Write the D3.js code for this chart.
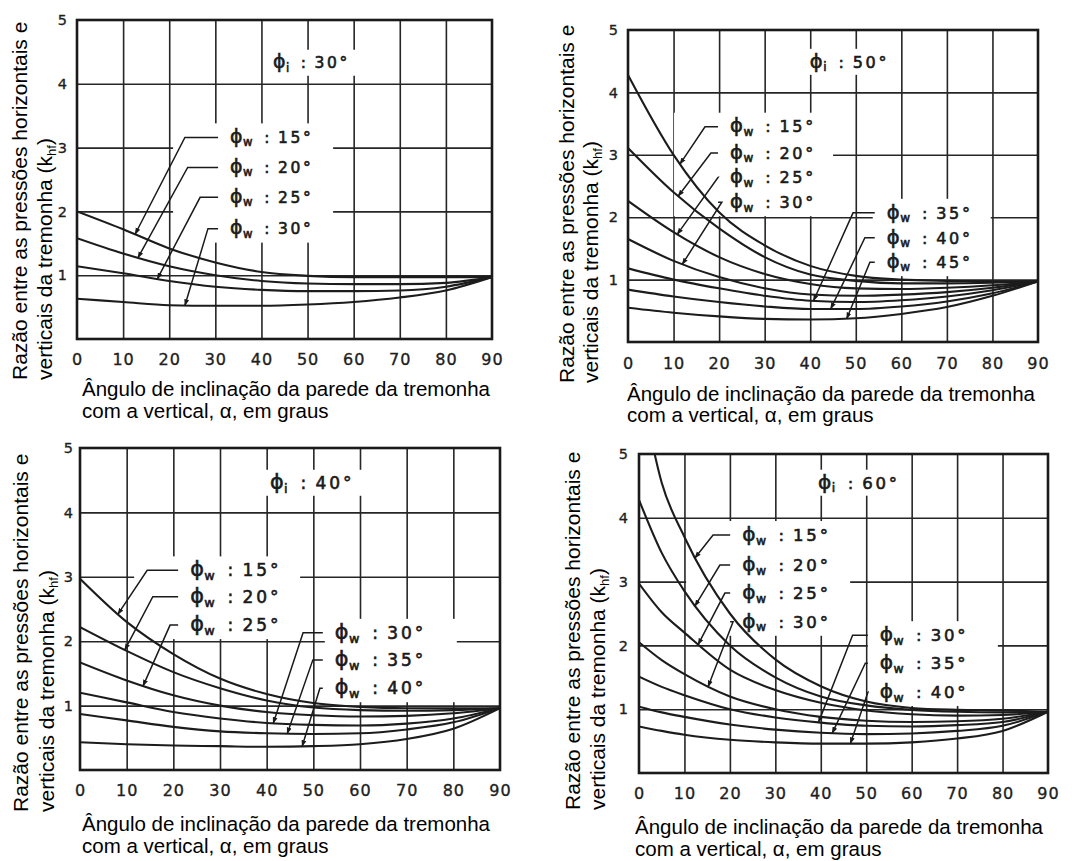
<!DOCTYPE html>
<html>
<head>
<meta charset="utf-8">
<script src="https://cdn.jsdelivr.net/npm/d3@7"></script>
<style>
  body { margin: 0; background: #fff; }
  svg { display: block; }
  .grid line { stroke: #262626; stroke-width: 1.6; }
  .tick-lab text { font-family: "DejaVu Sans", sans-serif; fill: #1e1e1e; stroke: #1e1e1e; stroke-width: 0.35; }
  .lab { font-family: "DejaVu Sans", sans-serif; fill: #1a1a1a; stroke: #1a1a1a; stroke-width: 0.6; }
  .title { font-family: "Liberation Sans", Arial, sans-serif; fill: #000; }
</style>
</head>
<body>
<svg id="chart" width="1084" height="861"></svg>
<script>
// ---------- data ----------
const alphaDeg   = [0, 10, 20, 30, 40, 50, 60, 70, 80, 90];        // hopper wall angle α (x)
const alphaDeg60 = [0, 5, 10, 20, 30, 40, 50, 60, 70, 80, 90];     // φi = 60° read also at 5°
const alphaTicks = [0, 10, 20, 30, 40, 50, 60, 70, 80, 90];
const kTicks     = [1, 2, 3, 4, 5];

// φi = 30°
const phiI30   = "30°";
const walls30  = ["15°", "20°", "25°", "30°"];
const k30_w15  = [2.00, 1.72, 1.42, 1.20, 1.05, 0.99, 0.97, 0.97, 0.97, 0.97];
const k30_w20  = [1.58, 1.34, 1.14, 1.00, 0.91, 0.87, 0.86, 0.86, 0.88, 0.97];
const k30_w25  = [1.14, 1.03, 0.91, 0.82, 0.77, 0.75, 0.75, 0.76, 0.82, 0.97];
const k30_w30  = [0.63, 0.58, 0.53, 0.52, 0.52, 0.54, 0.58, 0.65, 0.76, 0.97];

// φi = 50°
const phiI50   = "50°";
const walls50  = ["15°", "20°", "25°", "30°", "35°", "40°", "45°"];
const k50_w15  = [4.28, 3.00, 2.08, 1.55, 1.22, 1.06, 1.00, 0.98, 0.97, 0.97];
const k50_w20  = [3.11, 2.40, 1.82, 1.36, 1.08, 0.98, 0.94, 0.94, 0.95, 0.97];
const k50_w25  = [2.26, 1.76, 1.36, 1.09, 0.93, 0.86, 0.85, 0.87, 0.91, 0.97];
const k50_w30  = [1.65, 1.30, 1.04, 0.86, 0.76, 0.74, 0.76, 0.80, 0.87, 0.97];
const k50_w35  = [1.18, 1.00, 0.86, 0.74, 0.66, 0.64, 0.67, 0.73, 0.83, 0.97];
const k50_w40  = [0.84, 0.73, 0.64, 0.57, 0.53, 0.53, 0.57, 0.65, 0.78, 0.97];
const k50_w45  = [0.55, 0.47, 0.41, 0.37, 0.36, 0.38, 0.45, 0.56, 0.74, 0.97];

// φi = 40°
const phiI40   = "40°";
const walls40  = ["15°", "20°", "25°", "30°", "35°", "40°"];
const k40_w15  = [2.97, 2.30, 1.80, 1.42, 1.18, 1.04, 0.98, 0.96, 0.96, 0.96];
const k40_w20  = [2.22, 1.85, 1.52, 1.27, 1.08, 0.97, 0.93, 0.92, 0.93, 0.96];
const k40_w25  = [1.67, 1.39, 1.16, 1.00, 0.90, 0.85, 0.83, 0.84, 0.88, 0.96];
const k40_w30  = [1.20, 1.05, 0.90, 0.80, 0.73, 0.70, 0.69, 0.72, 0.80, 0.96];
const k40_w35  = [0.87, 0.77, 0.67, 0.60, 0.57, 0.56, 0.57, 0.63, 0.74, 0.96];
const k40_w40  = [0.43, 0.40, 0.38, 0.37, 0.36, 0.37, 0.40, 0.48, 0.64, 0.96];

// φi = 60°  (values at α = 0, 5, 10, 20 … 90)
const phiI60   = "60°";
const walls60  = ["15°", "20°", "25°", "30°", "30°", "35°", "40°"];
const k60_w15  = [6.20, 4.55, 3.70, 2.50, 1.78, 1.36, 1.12, 1.02, 0.99, 0.98, 0.96];
const k60_w20  = [4.28, 3.45, 2.85, 2.00, 1.50, 1.20, 1.06, 0.99, 0.96, 0.95, 0.96];
const k60_w25  = [2.97, 2.52, 2.20, 1.62, 1.30, 1.10, 0.98, 0.92, 0.90, 0.91, 0.96];
const k60_w30a = [2.05, 1.77, 1.55, 1.20, 1.00, 0.88, 0.82, 0.80, 0.81, 0.85, 0.96];
const k60_w30b = [1.51, 1.35, 1.22, 1.00, 0.87, 0.79, 0.74, 0.73, 0.75, 0.80, 0.96];
const k60_w35  = [1.04, 0.95, 0.88, 0.76, 0.68, 0.63, 0.61, 0.62, 0.66, 0.74, 0.96];
const k60_w40  = [0.73, 0.66, 0.60, 0.52, 0.48, 0.46, 0.46, 0.48, 0.54, 0.66, 0.96];

const yTitle1 = "Razão entre as pressões horizontais e";
const yTitle2 = "verticais da tremonha (k";
const yTitleSub = "hf";
const xTitle1 = "Ângulo de inclinação da parede da tremonha";
const xTitle2 = "com a vertical, α, em graus";

// ---------- layout (positions only) ----------
const panels = [
  { phiI: phiI30, walls: walls30, curves: [k30_w15, k30_w20, k30_w25, k30_w30], xs: alphaDeg,
    box: {l: 77, r: 492, t: 20, b: 339}, yPad: 10, xPad: 15, fs: 15.5,
    yt: {x1: 27, x2: 52, y: 380}, xt: {x: 82, y1: 396, y2: 418},
    phiPos: {a: 42.5, k: 4.33},
    groups: [
      {a: 33.2, eraseL: -57, eraseR: 103, items: [
        {i: 0, k: 3.16, elbow: 23.4, tip: 12.6},
        {i: 1, k: 2.69, elbow: 24.0, tip: 13.2},
        {i: 2, k: 2.22, elbow: 26.7, tip: 17.4},
        {i: 3, k: 1.73, elbow: 28.4, tip: 23.4}]}
    ]},
  { phiI: phiI50, walls: walls50, curves: [k50_w15, k50_w20, k50_w25, k50_w30, k50_w35, k50_w40, k50_w45], xs: alphaDeg,
    box: {l: 628, r: 1038, t: 30, b: 342}, yPad: 10, xPad: 16, fs: 16,
    yt: {x1: 574, x2: 598, y: 383}, xt: {x: 627, y1: 401, y2: 422},
    phiPos: {a: 39.9, k: 4.49},
    groups: [
      {a: 22.4, eraseL: -56, eraseR: 103, items: [
        {i: 0, k: 3.45, elbow: 16.9, tip: 11.4},
        {i: 1, k: 3.03, elbow: 18.2, tip: 11.0},
        {i: 2, k: 2.64, elbow: 19.8, tip: 10.8},
        {i: 3, k: 2.24, elbow: 20.6, tip: 11.9}]},
      {a: 56.8, eraseL: -14, eraseR: 104, items: [
        {i: 4, k: 2.07, elbow: 49.4, tip: 40.7},
        {i: 5, k: 1.67, elbow: 52.0, tip: 44.5},
        {i: 6, k: 1.28, elbow: 53.1, tip: 48.0}]}
    ]},
  { phiI: phiI40, walls: walls40, curves: [k40_w15, k40_w20, k40_w25, k40_w30, k40_w35, k40_w40], xs: alphaDeg,
    box: {l: 80, r: 500, t: 448, b: 770}, yPad: 7, xPad: 15, fs: 17,
    yt: {x1: 28, x2: 54, y: 812}, xt: {x: 82, y1: 831, y2: 853},
    phiPos: {a: 40.7, k: 4.46},
    groups: [
      {a: 23.6, eraseL: -56, eraseR: 110, items: [
        {i: 0, k: 3.10, elbow: 14.4, tip: 8.1},
        {i: 1, k: 2.69, elbow: 15.6, tip: 9.6},
        {i: 2, k: 2.25, elbow: 19.3, tip: 13.5}]},
      {a: 54.6, eraseL: -10, eraseR: 122, items: [
        {i: 3, k: 2.13, elbow: 47.8, tip: 41.4},
        {i: 4, k: 1.71, elbow: 49.9, tip: 44.4},
        {i: 5, k: 1.27, elbow: 51.4, tip: 47.6}]}
    ]},
  { phiI: phiI60, walls: walls60, curves: [k60_w15, k60_w20, k60_w25, k60_w30a, k60_w30b, k60_w35, k60_w40], xs: alphaDeg60,
    box: {l: 639, r: 1048, t: 454, b: 773}, yPad: 11, xPad: 15, fs: 16.5,
    yt: {x1: 580, x2: 605, y: 810}, xt: {x: 635, y1: 834, y2: 856},
    phiPos: {a: 39.4, k: 4.55},
    groups: [
      {a: 22.7, eraseL: -56, eraseR: 108, items: [
        {i: 0, k: 3.73, elbow: 16.3, tip: 12.3},
        {i: 1, k: 3.26, elbow: 17.8, tip: 12.3},
        {i: 2, k: 2.82, elbow: 18.9, tip: 13.0},
        {i: 3, k: 2.37, elbow: 20.7, tip: 15.2}]},
      {a: 53.0, eraseL: -12, eraseR: 118, items: [
        {i: 4, k: 2.16, elbow: 47.0, tip: 39.5},
        {i: 5, k: 1.72, elbow: 49.8, tip: 42.5},
        {i: 6, k: 1.27, elbow: 50.4, tip: 46.5}]}
    ]}
];

// ---------- drawing ----------
const svg = d3.select("#chart");
const defs = svg.append("defs");
defs.append("marker").attr("id", "arr").attr("viewBox", "0 0 10 10")
  .attr("refX", 9).attr("refY", 5).attr("markerWidth", 7).attr("markerHeight", 7)
  .attr("markerUnits", "userSpaceOnUse").attr("orient", "auto")
  .append("path").attr("d", "M0,1.5 L10,5 L0,8.5 z").attr("fill", "#1a1a1a");

function pointAtX(node, xt) {
  const L = node.getTotalLength();
  let lo = 0, hi = L;
  for (let n = 0; n < 40; n++) {
    const mid = (lo + hi) / 2;
    if (node.getPointAtLength(mid).x < xt) lo = mid; else hi = mid;
  }
  return node.getPointAtLength((lo + hi) / 2);
}

function phiText(g, x, cy, sub, val, fs) {
  const t = g.append("text").attr("class", "lab").attr("x", x).attr("y", cy + fs * 0.36)
    .attr("font-size", fs);
  t.append("tspan").attr("font-size", fs * 1.22).text("ϕ");
  t.append("tspan").attr("font-size", fs * 0.75).attr("dy", fs * 0.22).attr("dx", 0.5).text(sub);
  t.append("tspan").attr("dy", -fs * 0.22).attr("dx", fs * 0.75).text(":");
  t.append("tspan").attr("dx", fs * 0.55).attr("letter-spacing", fs * 0.17).text(val);
}

panels.forEach((p, pi) => {
  const b = p.box;
  const x = d3.scaleLinear().domain([0, 90]).range([b.l, b.r]);
  const y = d3.scaleLinear().domain([0, 5]).range([b.b, b.t]);
  const g = svg.append("g");

  // grid
  g.append("g").attr("class", "grid").attr("transform", `translate(0,${b.b})`)
    .call(d3.axisBottom(x).tickValues(alphaTicks.slice(1, -1)).tickSize(-(b.b - b.t)).tickFormat(""))
    .call(s => s.select(".domain").remove());
  g.append("g").attr("class", "grid").attr("transform", `translate(${b.l},0)`)
    .call(d3.axisLeft(y).tickValues(kTicks.slice(0, -1)).tickSize(-(b.r - b.l)).tickFormat(""))
    .call(s => s.select(".domain").remove());

  // erase grid behind labels
  const fs = p.fs;
  const phx = x(p.phiPos.a), phy = y(p.phiPos.k);
  g.append("rect").attr("x", phx - 6).attr("y", phy - 13).attr("width", fs * 5.9).attr("height", 26).attr("fill", "#fff");
  p.groups.forEach(gr => {
    const tx = x(gr.a);
    const ys = gr.items.map(it => y(it.k));
    g.append("rect").attr("x", tx + gr.eraseL).attr("y", d3.min(ys) - 14)
      .attr("width", gr.eraseR - gr.eraseL).attr("height", d3.max(ys) - d3.min(ys) + 28).attr("fill", "#fff");
  });

  // frame
  g.append("rect").attr("x", b.l).attr("y", b.t).attr("width", b.r - b.l).attr("height", b.b - b.t)
    .attr("fill", "none").attr("stroke", "#1a1a1a").attr("stroke-width", 2.6);

  // curves
  const clipId = "clip" + pi;
  defs.append("clipPath").attr("id", clipId).append("rect")
    .attr("x", b.l).attr("y", b.t).attr("width", b.r - b.l).attr("height", b.b - b.t);
  const line = d3.line().x((d, i) => x(p.xs[i])).y(d => y(d)).curve(d3.curveMonotoneX);
  const paths = p.curves.map(c =>
    g.append("path").attr("d", line(c)).attr("fill", "none").attr("stroke", "#1c1c1c")
      .attr("stroke-width", 2.1).attr("clip-path", `url(#${clipId})`).node());

  // labels and leaders
  phiText(g, phx, phy, "i", p.phiI, fs);
  p.groups.forEach(gr => {
    const tx = x(gr.a);
    gr.items.forEach(it => {
      const cy = y(it.k);
      const tip = pointAtX(paths[it.i], x(it.tip));
      g.append("path")
        .attr("d", `M${tx - 12},${cy} L${x(it.elbow)},${cy} L${tip.x},${tip.y}`)
        .attr("fill", "none").attr("stroke", "#1a1a1a").attr("stroke-width", 1.5)
        .attr("marker-end", "url(#arr)");
      phiText(g, tx, cy, "w", p.walls[it.i], fs);
    });
  });

  // tick labels
  g.append("g").attr("class", "tick-lab").attr("transform", `translate(0,${b.b})`)
    .call(d3.axisBottom(x).tickValues(alphaTicks).tickSize(0).tickPadding(p.xPad).tickFormat(d3.format("d")))
    .call(s => s.select(".domain").remove())
    .call(s => s.selectAll("text").attr("font-size", 16).attr("letter-spacing", 1)
      .attr("font-family", "DejaVu Sans"));
  g.append("g").attr("class", "tick-lab").attr("transform", `translate(${b.l},0)`)
    .call(d3.axisLeft(y).tickValues(kTicks).tickSize(0).tickPadding(p.yPad).tickFormat(d3.format("d")))
    .call(s => s.select(".domain").remove())
    .call(s => s.selectAll("text").attr("font-size", 14.5).attr("font-family", "DejaVu Sans"));

  // axis titles
  g.append("text").attr("class", "title").attr("font-size", 21)
    .attr("transform", `translate(${p.yt.x1},${p.yt.y}) rotate(-90)`).text(yTitle1);
  const t2 = g.append("text").attr("class", "title").attr("font-size", 21)
    .attr("transform", `translate(${p.yt.x2},${p.yt.y}) rotate(-90)`);
  t2.append("tspan").text(yTitle2);
  t2.append("tspan").attr("font-size", 13).attr("dy", 4).text(yTitleSub);
  t2.append("tspan").attr("dy", -4).text(")");
  g.append("text").attr("class", "title").attr("font-size", 20.5)
    .attr("x", p.xt.x).attr("y", p.xt.y1).text(xTitle1);
  g.append("text").attr("class", "title").attr("font-size", 20.5)
    .attr("x", p.xt.x).attr("y", p.xt.y2).text(xTitle2);
});
</script>
</body>
</html>
